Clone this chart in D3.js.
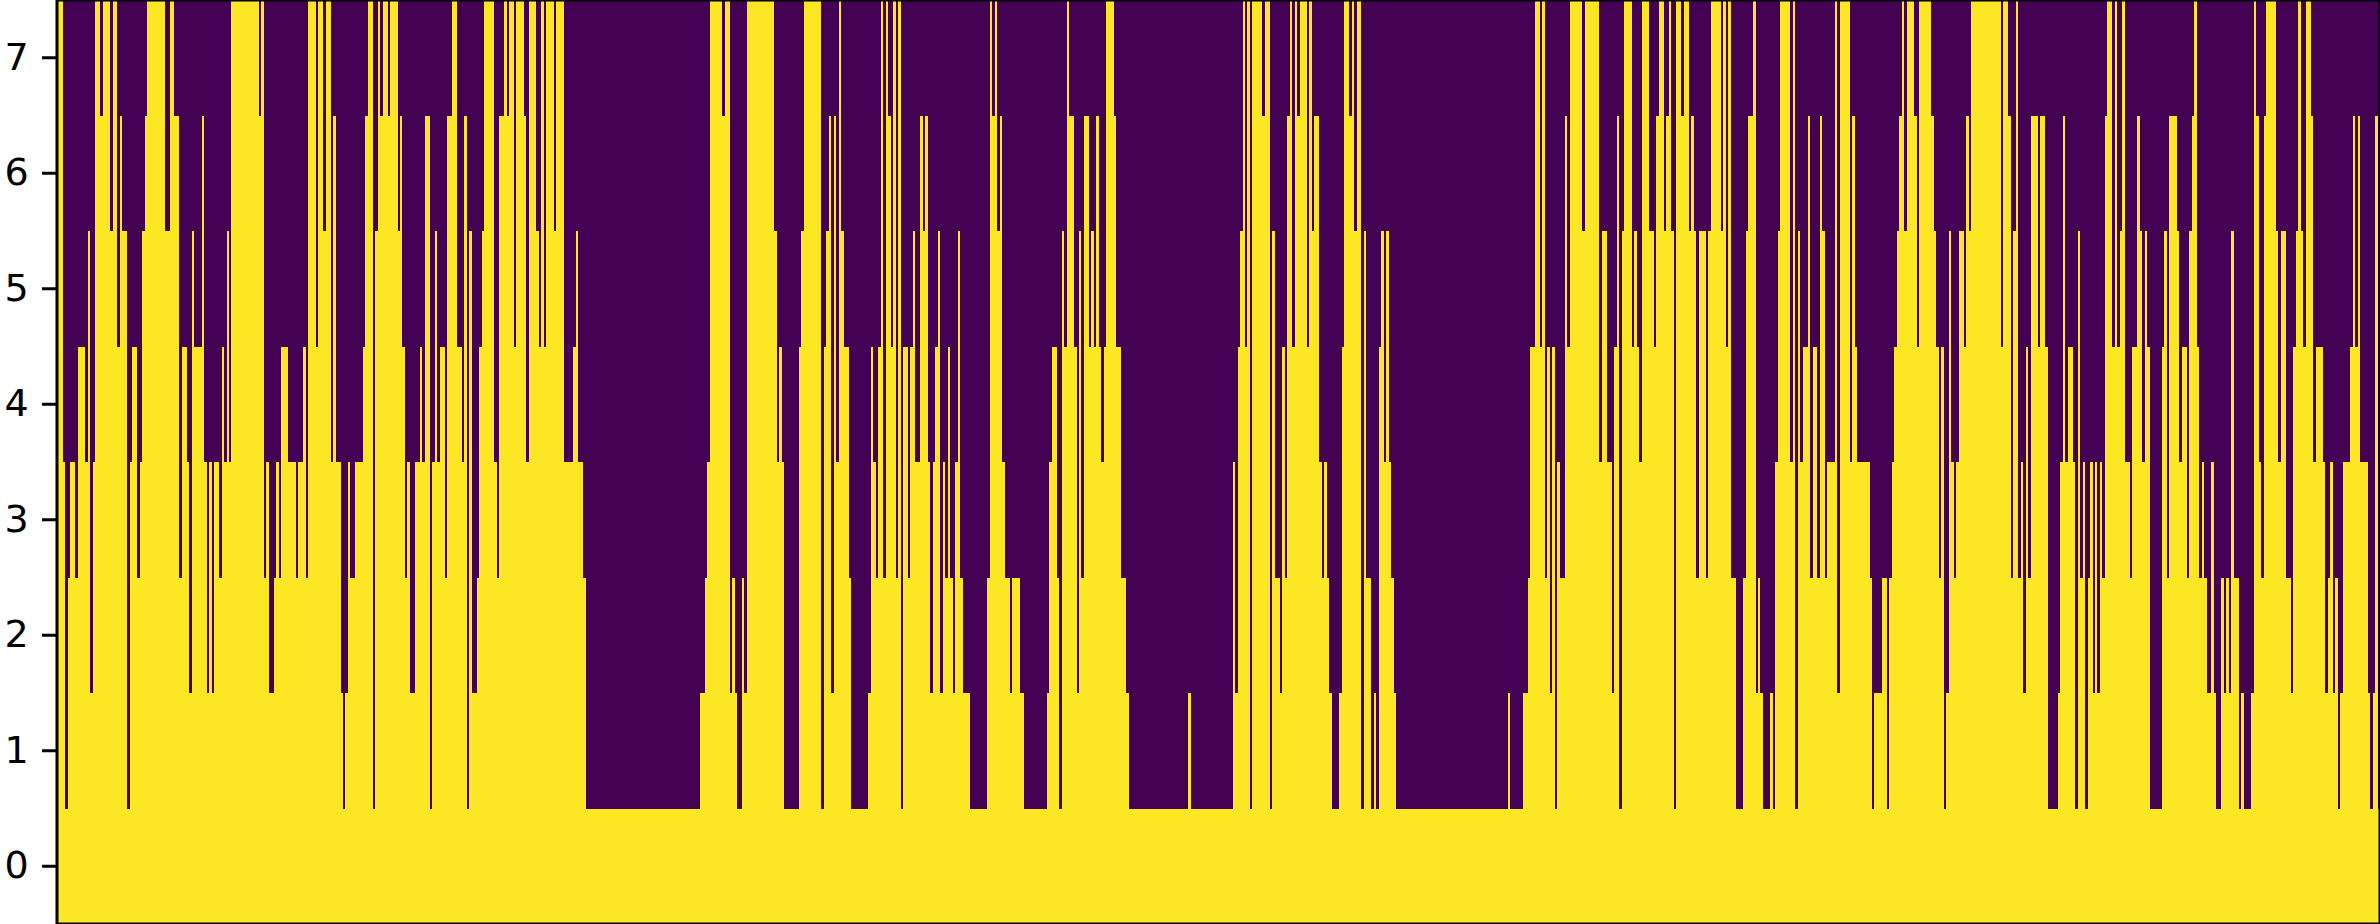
<!DOCTYPE html>
<html><head><meta charset="utf-8">
<script src="https://cdn.jsdelivr.net/npm/d3@7"></script>
<style>html,body{margin:0;padding:0;background:#fff;overflow:hidden}svg{display:block}</style>
</head><body><svg id="c" width="2380" height="924"></svg>
<script>
const columnCount = 937;
const rowLabels = [0,1,2,3,4,5,6,7];
const purple = "#440154", yellow = "#fde725";
// Each run: first column index and number of lit rows (counted from row 0)
const runStart = [
0,2,3,4,5,7,8,11,12,13,14,15,17,18,21,22,24,25,26,28,29,30,32,33,34,35,36,43,45,47,49,50,52,53,54,55,58,59,60,61,62,63,65,66,67,68,69,70,
81,82,83,84,85,87,88,89,90,93,96,97,99,100,101,104,105,107,108,110,111,112,114,115,116,117,118,120,123,124,125,127,128,129,130,131,133,134,137,138,139,140,141,142,144,146,147,148,150,151,152,153,154,156,157,
159,161,163,164,165,166,167,169,170,171,172,176,177,178,180,181,182,184,185,188,189,190,193,194,195,196,197,200,201,204,208,209,210,212,213,
259,261,262,263,268,269,271,272,273,274,276,277,278,289,290,291,292,293,299,300,301,308,309,310,311,312,313,314,315,316,317,319,
320,327,328,329,330,331,332,333,334,335,336,337,338,339,340,341,343,344,345,346,348,349,350,351,352,353,354,355,356,357,358,359,360,361,362,363,364,365,368,375,376,377,378,379,380,381,382,384,385,388,390,399,
400,401,403,404,405,406,407,408,410,411,412,413,414,416,417,418,419,420,421,422,423,426,427,429,431,432,456,457,474,475,476,477,478,479,480,
481,482,486,487,489,490,491,493,494,495,496,497,498,499,500,501,504,505,506,507,509,510,511,512,513,514,517,518,519,521,522,523,524,526,527,528,530,531,532,533,534,535,536,537,538,539,540,
585,586,591,593,594,596,598,599,600,601,602,603,604,605,606,608,609,610,615,616,622,623,625,627,628,629,630,631,632,635,636,637,638,639,
642,644,645,646,648,649,650,651,652,653,655,656,658,659,660,661,662,665,666,667,671,672,673,674,675,677,680,681,682,684,685,686,687,688,691,692,693,694,695,699,700,701,702,703,704,706,707,708,710,711,712,713,714,717,718,719,
723,724,725,726,731,732,733,736,738,739,740,741,742,743,744,745,746,749,750,751,756,757,758,759,760,761,762,763,764,765,766,767,769,770,771,772,784,785,787,788,789,790,791,792,793,794,795,796,799,800,802,803,
807,808,809,810,811,813,814,815,816,817,818,819,820,821,822,823,824,825,826,827,829,830,831,832,833,834,836,837,839,840,841,842,843,844,849,850,851,852,855,856,857,859,860,861,862,863,864,865,866,867,869,870,871,
873,874,875,876,877,878,880,881,882,885,886,887,888,889,890,891,895,896,897,899,901,902,903,904,905,906,907,909,910,911,914,915,916,917,918,919,920,921,922,925,926,927,928,929,932,933,934,935,936
];
const runLit = [
8,4,1,3,4,3,5,4,6,2,4,8,7,8,6,8,5,7,6,1,4,5,3,4,6,7,8,6,8,7,3,5,4,2,6,5,7,4,2,4,2,4,3,5,4,6,4,8,
7,8,3,4,2,3,4,3,5,4,3,4,5,3,8,5,8,6,8,4,7,4,2,1,2,4,3,4,5,7,8,1,6,8,7,8,7,8,6,7,5,3,4,2,4,5,4,7,1,4,6,4,5,3,7,
8,5,4,7,1,6,2,3,5,6,8,4,3,7,8,7,8,5,8,7,4,8,6,5,8,5,8,6,8,4,5,6,4,3,1,
2,3,4,8,7,8,2,3,2,1,3,2,8,6,4,5,4,1,5,6,8,1,5,6,7,2,7,4,8,6,5,3,
1,2,5,4,3,5,8,3,8,7,5,8,3,8,1,5,3,5,6,4,7,6,7,4,2,4,5,6,2,4,3,5,3,2,4,6,3,2,1,3,8,7,8,6,7,4,3,2,3,2,1,2,
4,5,3,1,6,5,8,7,5,2,6,3,7,5,6,5,7,5,4,5,8,7,5,3,2,1,2,1,4,2,5,6,8,5,8,
1,8,7,8,1,6,3,2,5,3,7,8,5,8,7,8,5,8,6,7,4,3,4,3,2,1,2,5,8,7,8,6,8,1,6,3,1,2,1,5,6,4,6,4,3,2,1,
2,1,2,3,5,8,5,8,3,5,2,5,1,4,3,7,5,8,6,8,4,6,4,2,5,7,1,6,8,5,6,5,4,8,
6,5,7,8,6,7,8,6,1,8,7,8,6,7,6,3,6,3,6,8,6,8,5,8,3,1,3,6,7,8,2,3,2,1,2,1,4,6,8,4,8,1,6,4,5,7,3,5,3,7,6,3,4,8,2,8,
4,7,5,4,3,1,2,3,1,3,4,5,6,7,8,6,8,7,5,8,7,6,5,3,5,1,2,6,4,3,4,6,5,7,6,8,5,8,7,3,6,8,3,4,2,5,3,7,5,7,5,1,
2,4,7,4,5,4,1,6,3,4,1,3,4,2,4,2,4,3,7,8,5,8,5,6,8,4,3,5,7,6,4,6,5,1,5,6,3,7,6,4,5,3,6,7,8,5,3,4,3,2,4,2,1,
3,2,3,2,6,3,1,2,1,2,8,7,4,3,7,8,6,4,6,3,2,5,6,8,6,5,8,7,4,5,4,2,3,4,2,3,1,2,4,5,7,5,7,4,2,1,2,7,1
];

const W = 2380, H = 924, left = 58, spineX = 57;
const svg = d3.select("#c");
const x = d3.scaleBand().domain(d3.range(columnCount)).range([left, W]).paddingInner(0).paddingOuter(0);
const y = d3.scaleLinear().domain([-0.5, 7.5]).range([H, 0]);

const runs = runStart.map((s, i) => ({
  start: s,
  length: (i + 1 < runStart.length ? runStart[i + 1] : columnCount) - s,
  lit: runLit[i]
}));

svg.append("rect").attr("x", left).attr("y", 0).attr("width", W - left).attr("height", H).attr("fill", purple);
svg.append("g").attr("shape-rendering", "crispEdges").selectAll("rect").data(runs).join("rect")
  .attr("x", d => x(d.start))
  .attr("width", d => d.length * x.bandwidth())
  .attr("y", d => y(d.lit - 0.5))
  .attr("height", d => H - y(d.lit - 0.5))
  .attr("fill", yellow);

svg.append("rect").attr("x", spineX).attr("y", 0).attr("width", W - spineX).attr("height", H)
  .attr("fill", "none").attr("stroke", "#000").attr("stroke-width", 3);

const axis = d3.axisLeft(y).tickValues(rowLabels).tickFormat(d3.format("d")).tickSize(15).tickPadding(13.3).offset(0);
const g = svg.append("g").attr("transform", `translate(${spineX},0)`).call(axis);
g.select(".domain").remove();
g.selectAll(".tick line").attr("stroke", "#000").attr("stroke-width", 3);
g.selectAll(".tick text").attr("fill", "#000").style("font-family", "'DejaVu Sans'").style("font-size", "38px");
</script></body></html>
